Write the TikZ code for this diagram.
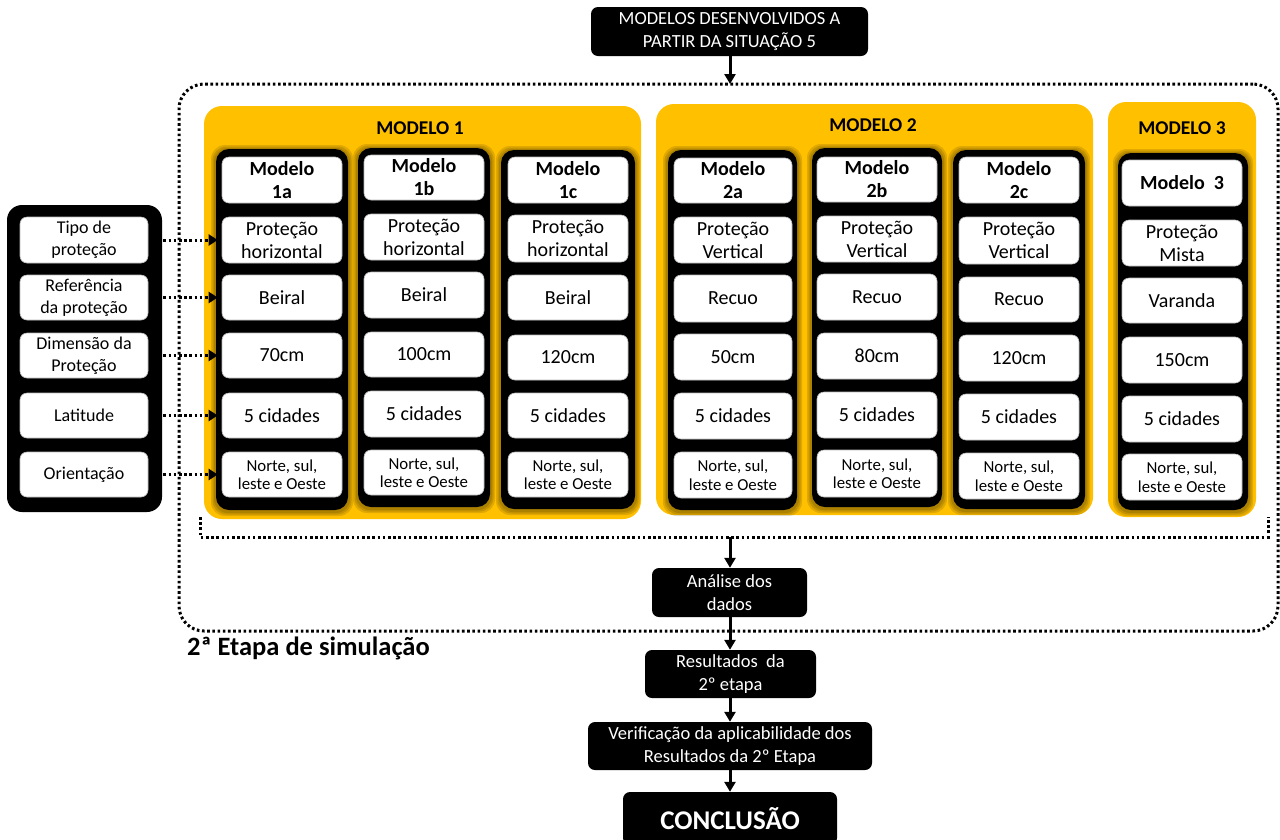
\documentclass[tikz,border=0pt]{standalone}
\usepackage{fontspec}
\setmainfont{Carlito}
\usetikzlibrary{arrows.meta}
\definecolor{myyel}{HTML}{FFC000}
% generic box by corners: [extra style]{base style}{name}{x1}{y1}{x2}{y2}{text}
\newcommand\mybx[8][]{%
  \pgfmathsetmacro\mycx{(#4+#6)/2}\pgfmathsetmacro\mycy{(#5+#7)/2}%
  \pgfmathsetmacro\myww{#6-#4}\pgfmathsetmacro\myhh{#7-#5}%
  \node[#2,#1,minimum width=\myww pt,minimum height=\myhh pt] (#3) at (\mycx,\mycy) {#8};}
\newcommand\mywb[7][]{\mybx[#1]{wbst}{#2}{#3}{#4}{#5}{#6}{#7}}
\begin{document}
\begin{tikzpicture}[x=1pt,y=-1pt,
  yel/.style={fill=myyel, rounded corners=18pt, inner sep=0pt, draw=none},
  colst/.style={fill=black, rounded corners=13pt, inner sep=0pt, draw=none},
  wbst/.style={fill=white, draw=gray!55, line width=0.6pt, rounded corners=7pt, inner sep=0pt, align=center, text=black, font=\fontsize{20}{23}\selectfont},
  bld/.style={font=\fontsize{20}{23}\selectfont\bfseries},
  sml/.style={font=\fontsize{16.8}{18.5}\selectfont},
  lft/.style={font=\fontsize{18}{22}\selectfont},
  blk/.style={fill=black, rounded corners=7pt, inner sep=0pt, align=center, text=white, font=\fontsize{18.5}{23}\selectfont},
  ttl/.style={font=\fontsize{19.5}{23}\selectfont\bfseries, text=black},
  dotl/.style={line width=3pt, dash pattern=on 2.6pt off 2.6pt},
  darr/.style={dotl, -{Triangle[length=9pt,width=11pt]}},
  arr/.style={line width=3pt, -{Triangle[length=10pt,width=11pt]}},
]
\useasboundingbox (0,0) rectangle (1280,839);
\fill[white] (0,0) rectangle (1280,839);

% outer dotted frame
\mybx{dotl, draw, rounded corners=25pt, inner sep=0pt}{outer}{179}{84}{1278}{631}{}
\draw[dotl] (200,517) -- (200,537) -- (1268,537) -- (1268,517);
\coordinate (ibot) at (730,537);

% top box
\mybx{blk}{top}{591}{7}{868}{56}{MODELOS DESENVOLVIDOS A\\PARTIR DA SITUAÇÃO 5}
\coordinate (otop) at (730,84);
\draw[arr] (otop |- top.south) -- (otop);

% yellow panels
\mybx{yel}{p1}{204}{106}{641}{519}{}
\mybx{yel}{p2}{656}{104}{1093}{515}{}
\mybx{yel}{p3}{1108}{102}{1256}{517}{}
\node[ttl] (t1) at (420,128) {MODELO 1};
\node[ttl] (t2) at (873,125) {MODELO 2};
\node[ttl] (t3) at (1182,128) {MODELO 3};

% columns (with soft shadow)
\foreach \xa/\ya/\xb/\yb in {216/149/348/510, 358/148/490/507, 501/150/635/509, 668/150/797/510, 812/148/942/507, 953/150/1085/509, 1118/153/1248/510}{
  \foreach \g in {5,3.5,2}{
    \fill[black, fill opacity=0.12, rounded corners=14pt] (\xa-\g,\ya-\g+1) rectangle (\xb+\g,\yb+\g+1);
  }
}
\mybx{colst}{c1a}{216}{149}{348}{510}{}
\mybx{colst}{c1b}{358}{148}{490}{507}{}
\mybx{colst}{c1c}{501}{150}{635}{509}{}
\mybx{colst}{c2a}{668}{150}{797}{510}{}
\mybx{colst}{c2b}{812}{148}{942}{507}{}
\mybx{colst}{c2c}{953}{150}{1085}{509}{}
\mybx{colst}{c3}{1118}{153}{1248}{510}{}

% model 1a
\mywb[bld]{a1}{222}{157}{342}{203}{Modelo\\1a}
\mywb{a2}{222}{217}{342}{263}{Proteção\\horizontal}
\mywb{a3}{222}{275}{342}{320}{Beiral}
\mywb{a4}{222}{333}{342}{378}{70cm}
\mywb{a5}{222}{393}{342}{438}{5 cidades}
\mywb[sml]{a6}{222}{452}{342}{497}{Norte, sul,\\leste e Oeste}
% model 1b
\mywb[bld]{b1}{364}{155}{484}{200}{Modelo\\1b}
\mywb{b2}{364}{214}{484}{260}{Proteção\\horizontal}
\mywb{b3}{364}{272}{484}{318}{Beiral}
\mywb{b4}{364}{332}{484}{377}{100cm}
\mywb{b5}{364}{391}{484}{437}{5 cidades}
\mywb[sml]{b6}{364}{450}{484}{495}{Norte, sul,\\leste e Oeste}
% model 1c
\mywb[bld]{c1}{508}{157}{628}{203}{Modelo\\1c}
\mywb{c2}{508}{215}{628}{262}{Proteção\\horizontal}
\mywb{c3}{508}{275}{628}{320}{Beiral}
\mywb{c4}{508}{335}{628}{380}{120cm}
\mywb{c5}{508}{393}{628}{438}{5 cidades}
\mywb[sml]{c6}{508}{452}{628}{497}{Norte, sul,\\leste e Oeste}
% model 2a
\mywb[bld]{d1}{674}{158}{792}{203}{Modelo\\2a}
\mywb{d2}{674}{217}{792}{263}{Proteção\\Vertical}
\mywb{d3}{674}{275}{792}{322}{Recuo}
\mywb{d4}{674}{334}{792}{380}{50cm}
\mywb{d5}{674}{393}{792}{439}{5 cidades}
\mywb[sml]{d6}{674}{452}{792}{498}{Norte, sul,\\leste e Oeste}
% model 2b
\mywb[bld]{e1}{817}{157}{937}{202}{Modelo\\2b}
\mywb{e2}{817}{216}{937}{262}{Proteção\\Vertical}
\mywb{e3}{817}{274}{937}{320}{Recuo}
\mywb{e4}{817}{333}{937}{379}{80cm}
\mywb{e5}{817}{392}{937}{438}{5 cidades}
\mywb[sml]{e6}{817}{450}{937}{497}{Norte, sul,\\leste e Oeste}
% model 2c
\mywb[bld]{f1}{959}{157}{1079}{203}{Modelo\\2c}
\mywb{f2}{959}{217}{1079}{264}{Proteção\\Vertical}
\mywb{f3}{959}{277}{1079}{322}{Recuo}
\mywb{f4}{959}{335}{1079}{381}{120cm}
\mywb{f5}{959}{394}{1079}{440}{5 cidades}
\mywb[sml]{f6}{959}{453}{1079}{499}{Norte, sul,\\leste e Oeste}
% model 3
\mywb[bld]{g1}{1122}{160}{1242}{206}{Modelo~~3}
\mywb{g2}{1122}{220}{1242}{266}{Proteção\\Mista}
\mywb{g3}{1122}{278}{1242}{323}{Varanda}
\mywb{g4}{1122}{337}{1242}{383}{150cm}
\mywb{g5}{1122}{396}{1242}{442}{5 cidades}
\mywb[sml]{g6}{1122}{454}{1242}{500}{Norte, sul,\\leste e Oeste}

% left panel
\mybx[rounded corners=15pt]{colst}{lp}{7}{205}{162}{512}{}
\mywb[lft]{l1}{20}{217}{148}{263}{Tipo de\\proteção}
\mywb[lft]{l2}{20}{275}{148}{320}{Referência\\da proteção}
\mywb[lft]{l3}{20}{333}{148}{378}{Dimensão da\\Proteção}
\mywb[lft]{l4}{20}{393}{148}{438}{Latitude}
\mywb[lft]{l5}{20}{452}{148}{497}{Orientação}
\foreach \i/\j in {l1/a2,l2/a3,l3/a4,l4/a5,l5/a6}{
  \draw[darr, shorten <=15pt, shorten >=4pt] (\i.east) -- (\i.east -| \j.west);
}

% label
\node[font=\fontsize{26.5}{30}\selectfont\bfseries, anchor=west, inner sep=0pt] (lab) at (187,648) {2ª Etapa de simulação};

% bottom chain
\mybx{blk}{an}{652}{568}{807}{617}{Análise dos\\dados}
\mybx{blk}{res}{645}{650}{816}{698}{Resultados~ da\\2º etapa}
\mybx{blk}{ver}{588}{722}{872}{770}{Verificação da aplicabilidade dos\\Resultados da 2º Etapa}
\mybx[font=\fontsize{27}{30}\selectfont\bfseries]{blk}{con}{623}{792}{837}{845}{CONCLUSÃO}
\draw[arr] (ibot) -- (ibot |- an.north);
\draw[arr] (ibot |- an.south) -- (ibot |- res.north);
\draw[arr] (ibot |- res.south) -- (ibot |- ver.north);
\draw[arr] (ibot |- ver.south) -- (ibot |- con.north);
\end{tikzpicture}
\end{document}
